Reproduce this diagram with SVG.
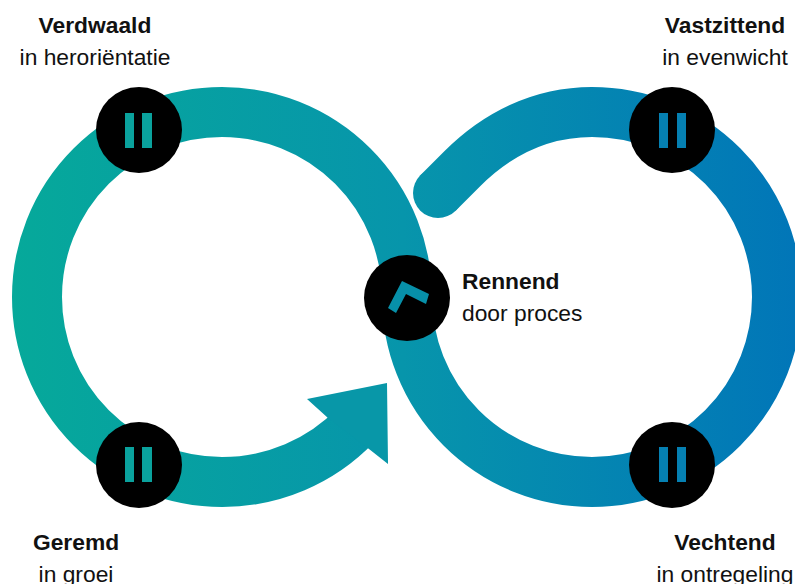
<svg xmlns="http://www.w3.org/2000/svg" width="795" height="584" viewBox="0 0 795 584">
<defs>
<linearGradient id="g" gradientUnits="userSpaceOnUse" x1="10" y1="0" x2="795" y2="0"><stop offset="0" stop-color="#06a99a"/><stop offset="0.5" stop-color="#0795ab"/><stop offset="1" stop-color="#0176b8"/></linearGradient>
</defs>
<style>
.t{font-family:"Liberation Sans",Arial,sans-serif;font-size:22.8px;fill:#111}
.b{font-weight:700}
.c{fill:#000}
.l{fill:#0aa29d}
.r{fill:#0580b2}
</style>
<rect width="795" height="584" fill="#fff"/>
<g id="connectors">
<path d="M438 193L462 169C496 135 540 112 592 112A185 185 0 0 1 592 482A185 185 0 0 1 407 297A185 185 0 0 0 222 112A185 185 0 0 0 222 482A185 185 0 0 0 356 425" fill="none" stroke="url(#g)" stroke-width="50" stroke-linecap="butt"/>
<circle cx="438" cy="193" r="25" fill="url(#g)"/>
<path d="M307 399L387 383L388 464L369 449L328 418Z" fill="#0897a8"/>
</g>
<g id="rennend"><circle class="c" cx="407" cy="298" r="43"/><path d="M402 281L429 294L426 304L406 294L396 313L388 308Z" fill="#0790a9"/><text class="t b" x="462" y="289">Rennend</text><text class="t" x="462" y="321">door proces</text></g>
<g id="verdwaald"><circle class="c" cx="139" cy="130" r="43"/><rect class="l" x="125" y="113" width="9" height="35"/><rect class="l" x="142" y="113" width="10" height="35"/><text class="t b" x="95" y="33" text-anchor="middle">Verdwaald</text><text class="t" x="95" y="65" text-anchor="middle">in heroriëntatie</text></g>
<g id="vastzittend"><circle class="c" cx="672" cy="130" r="43"/><rect class="r" x="659" y="113" width="9" height="35"/><rect class="r" x="677" y="113" width="9" height="35"/><text class="t b" x="725" y="33" text-anchor="middle">Vastzittend</text><text class="t" x="725" y="65" text-anchor="middle">in evenwicht</text></g>
<g id="geremd"><circle class="c" cx="139" cy="465" r="43"/><rect class="l" x="125" y="447" width="9" height="35"/><rect class="l" x="142" y="447" width="10" height="35"/><text class="t b" x="76" y="550" text-anchor="middle">Geremd</text><text class="t" x="76" y="582" text-anchor="middle">in groei</text></g>
<g id="vechtend"><circle class="c" cx="672" cy="465" r="43"/><rect class="r" x="659" y="447" width="9" height="35"/><rect class="r" x="677" y="447" width="9" height="35"/><text class="t b" x="725" y="550" text-anchor="middle">Vechtend</text><text class="t" x="725" y="582" text-anchor="middle">in ontregeling</text></g>
</svg>
